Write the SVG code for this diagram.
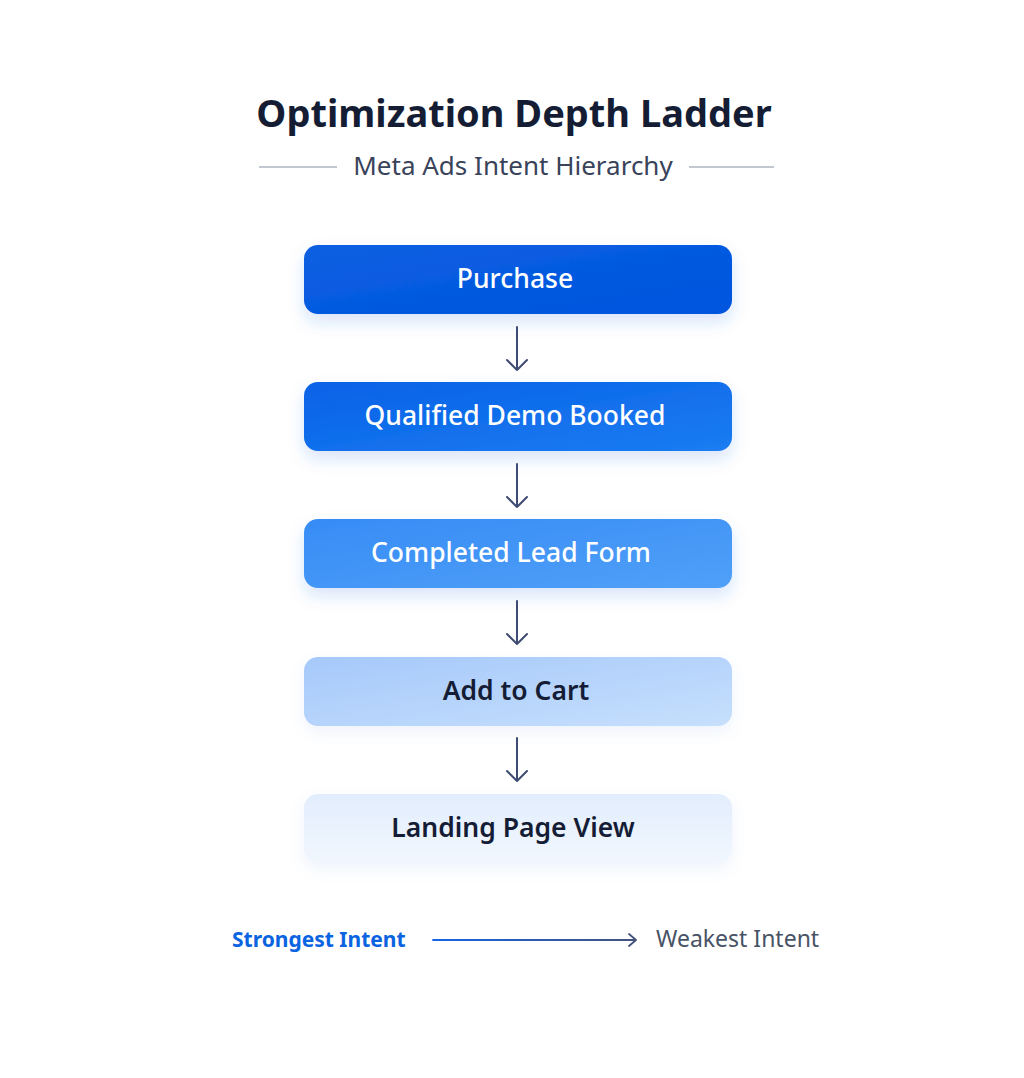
<svg xmlns="http://www.w3.org/2000/svg" width="1024" height="1078" viewBox="0 0 1024 1078">
<style>
.t{font-family:"Noto Sans","Open Sans",sans-serif;text-anchor:middle}
.lbl{font-family:"Noto Sans","Open Sans",sans-serif;font-size:26.5px;text-anchor:middle}
.w{fill:#ffffff;font-weight:500}
.d{fill:#141d35;font-weight:600}
.conn{stroke:#3f4b72;stroke-width:2;fill:none;stroke-linecap:round;stroke-linejoin:round}
</style>
<defs>
<filter id="sh" x="-20%" y="-40%" width="140%" height="200%">
<feDropShadow dx="0" dy="8" stdDeviation="8" flood-color="#2f6fe0" flood-opacity="0.18"/>
</filter>
<filter id="shl" x="-20%" y="-40%" width="140%" height="200%">
<feDropShadow dx="0" dy="6" stdDeviation="7" flood-color="#5b8fe0" flood-opacity="0.10"/>
</filter>
<linearGradient id="g1" x1="0" y1="0" x2="1" y2="1"><stop offset="0" stop-color="#0b5fe2"/><stop offset="1" stop-color="#0055de"/></linearGradient>
<linearGradient id="g2" x1="0" y1="0" x2="1" y2="1"><stop offset="0" stop-color="#0862e6"/><stop offset="1" stop-color="#1b7cf2"/></linearGradient>
<linearGradient id="g3" x1="0" y1="0" x2="1" y2="1"><stop offset="0" stop-color="#378cf5"/><stop offset="1" stop-color="#50a0f8"/></linearGradient>
<linearGradient id="g4" x1="0" y1="0" x2="1" y2="1"><stop offset="0" stop-color="#a6c9fb"/><stop offset="1" stop-color="#c6dffc"/></linearGradient>
<linearGradient id="g5" x1="0" y1="0" x2="0" y2="1"><stop offset="0" stop-color="#e2edfd"/><stop offset="1" stop-color="#f1f7fe"/></linearGradient>
<linearGradient id="gl" x1="0" y1="0" x2="1" y2="0"><stop offset="0" stop-color="#1565e6"/><stop offset="1" stop-color="#44527a"/></linearGradient>
</defs>
<rect width="1024" height="1078" fill="#ffffff"/>
<g id="title">
<text class="t" x="514" y="127" font-size="38" font-weight="700" fill="#141d33">Optimization Depth Ladder</text>
<text class="t" x="513" y="175" font-size="26" fill="#39435a">Meta Ads Intent Hierarchy</text>
<line x1="259" y1="167" x2="337" y2="167" stroke="#c3c7cf" stroke-width="2"/>
<line x1="689" y1="167" x2="774" y2="167" stroke="#c3c7cf" stroke-width="2"/>
</g>
<g id="connectors">
<path class="conn" d="M517 327 V370 M507 360 L517 370 L527 360"/>
<path class="conn" d="M517 464 V507 M507 497 L517 507 L527 497"/>
<path class="conn" d="M517 601 V644 M507 634 L517 644 L527 634"/>
<path class="conn" d="M517 738 V781 M507 771 L517 781 L527 771"/>
</g>
<g id="n1"><rect x="304" y="245" width="428" height="69" rx="14" fill="url(#g1)" filter="url(#sh)"/><text class="lbl w" x="515" y="288">Purchase</text></g>
<g id="n2"><rect x="304" y="382" width="428" height="69" rx="14" fill="url(#g2)" filter="url(#sh)"/><text class="lbl w" x="515" y="425">Qualified Demo Booked</text></g>
<g id="n3"><rect x="304" y="519" width="428" height="69" rx="14" fill="url(#g3)" filter="url(#sh)"/><text class="lbl w" x="511" y="562">Completed Lead Form</text></g>
<g id="n4"><rect x="304" y="657" width="428" height="69" rx="14" fill="url(#g4)" filter="url(#shl)"/><text class="lbl d" x="516" y="700">Add to Cart</text></g>
<g id="n5"><rect x="304" y="794" width="428" height="69" rx="14" fill="url(#g5)" filter="url(#shl)"/><text class="lbl d" x="513" y="837">Landing Page View</text></g>
<g id="legend">
<text x="232" y="947" font-family="Noto Sans, Open Sans, sans-serif" font-size="21" font-weight="700" fill="#0a63e0">Strongest Intent</text>
<path d="M433 940 H636 M629 934 L636 940 L629 946" stroke="url(#gl)" stroke-width="1.8" fill="none" stroke-linecap="round" stroke-linejoin="round"/>
<text x="656" y="947" font-family="Noto Sans, Open Sans, sans-serif" font-size="23" fill="#485366">Weakest Intent</text>
</g>
</svg>
